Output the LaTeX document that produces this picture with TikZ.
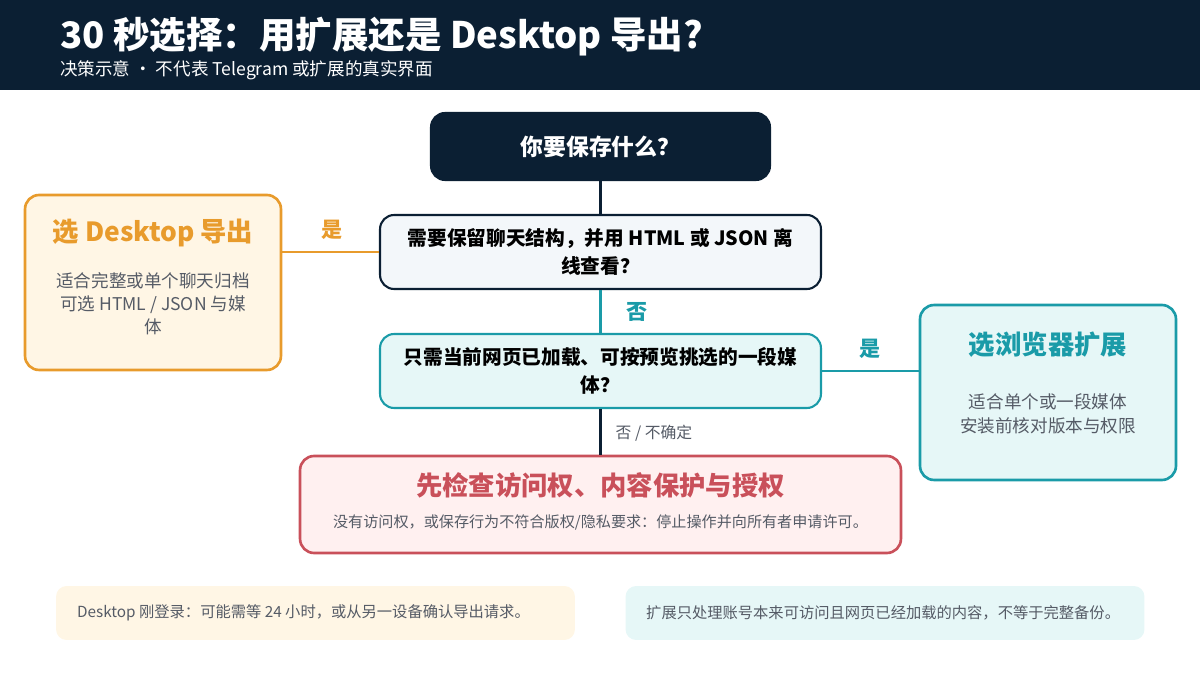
\documentclass[tikz,border=0pt]{standalone}
\usepackage{fontspec}
\setmainfont{Noto Sans CJK SC}
\usetikzlibrary{positioning}
\definecolor{navy}{HTML}{0B1F33}
\definecolor{orng}{HTML}{E89B2C}
\definecolor{teal}{HTML}{1A9BA8}
\definecolor{rd}{HTML}{C9505A}
\definecolor{txt}{HTML}{555B66}
\definecolor{paleo}{HTML}{FFF6E5}
\definecolor{palet}{HTML}{E6F7F7}
\definecolor{paler}{HTML}{FFF0F0}
\definecolor{palen}{HTML}{F3F7FA}
\tikzset{
  box/.style={draw, line width=1.2pt, rounded corners=8pt, align=center, inner sep=0pt},
  ques/.style={box, minimum width=8.82cm, minimum height=1.48cm, font=\bfseries\fontsize{11.2}{16}\selectfont},
  side/.style={box, line width=1.5pt, minimum width=5.12cm, minimum height=3.5cm},
  note/.style={fill, rounded corners=6pt, minimum width=10.38cm, minimum height=1.08cm},
  notetext/.style={anchor=west, font=\fontsize{8.7}{12}\selectfont, text=txt},
  lab/.style={font=\bfseries\fontsize{12}{14}\selectfont},
}
\begin{document}
\begin{tikzpicture}[x=0.02cm, y=-0.02cm]
        \useasboundingbox (0,0) rectangle (1200,675);
        \fill[navy] (0,0) rectangle (1200,90);
        \node[anchor=west, text=white, font=\bfseries\fontsize{20.8}{26}\selectfont] (title) at (54,37) {30 秒选择：用扩展还是 Desktop 导出?};
        \node[anchor=west, text=white, font=\fontsize{10}{12}\selectfont] (sub) at (54,70) {决策示意 · 不代表 Telegram 或扩展的真实界面};

        \node[box, fill=navy, draw=navy, text=white, minimum width=6.78cm, minimum height=1.34cm, font=\bfseries\fontsize{13}{16}\selectfont] (q0) at (600.5,146.5) {你要保存什么？};
        \node[ques, fill=palen, draw=navy] (q1) at (600.5,252) {需要保留聊天结构，并用 HTML 或 JSON 离\\线查看？};
        \node[ques, fill=palet, draw=teal] (q2) at (600.5,371) {只需当前网页已加载、可按预览挑选的一段媒\\体？};

        \node[side, fill=paleo, draw=orng] (desk) at (153,282.5) {};
        \node[text=orng, font=\bfseries\fontsize{15}{18}\selectfont] (deskt) at (153,233) {选 Desktop 导出};
        \node[text=txt, font=\fontsize{10}{13.2}\selectfont, align=center] (deskb) at (153,304) {适合完整或单个聊天归档\\可选 HTML / JSON 与媒\\体};

        \node[side, fill=palet, draw=teal] (ext) at (1048,392.5) {};
        \node[text=teal, font=\bfseries\fontsize{15}{18}\selectfont] (extt) at (1048,345) {选浏览器扩展};
        \node[text=txt, font=\fontsize{10}{14}\selectfont, align=center] (extb) at (1048,414) {适合单个或一段媒体\\安装前核对版本与权限};

        \node[box, fill=paler, draw=rd, line width=1.5pt, minimum width=12.02cm, minimum height=1.94cm] (chk) at (600.5,504.5) {};
        \node[text=rd, font=\bfseries\fontsize{15}{18}\selectfont] (chkt) at (600.5,485) {先检查访问权、内容保护与授权};
        \node[text=txt, font=\fontsize{8.6}{12}\selectfont] (chkb) at (600.5,522) {没有访问权，或保存行为不符合版权/隐私要求：停止操作并向所有者申请许可。};

        \node[note, paleo] (n1) at (315.5,613) {};
        \node[notetext] (n1t) at (71,613) {Desktop 刚登录：可能需等 24 小时，或从另一设备确认导出请求。};
        \node[note, palet] (n2) at (885,613) {};
        \node[notetext] (n2t) at (640,613) {扩展只处理账号本来可访问且网页已经加载的内容，不等于完整备份。};

        \draw[navy, line width=1.2pt] (q0) -- (q1);
        \draw[orng, line width=1.5pt] (q1) -- (desk.east |- q1);
        \node[lab, text=orng] (yes1) at (332,230) {是};
        \draw[teal, line width=1.5pt] (q1) -- (q2);
        \node[lab, text=teal] (no1) at (637,312) {否};
        \draw[teal, line width=1.5pt] (q2) -- (ext.west |- q2);
        \node[lab, text=teal] (yes2) at (870,349) {是};
        \draw[navy, line width=1.2pt] (q2) -- (chk);
        \node[text=txt, font=\fontsize{9}{11}\selectfont] (no2) at (654,433) {否 / 不确定};
\end{tikzpicture}
\end{document}
